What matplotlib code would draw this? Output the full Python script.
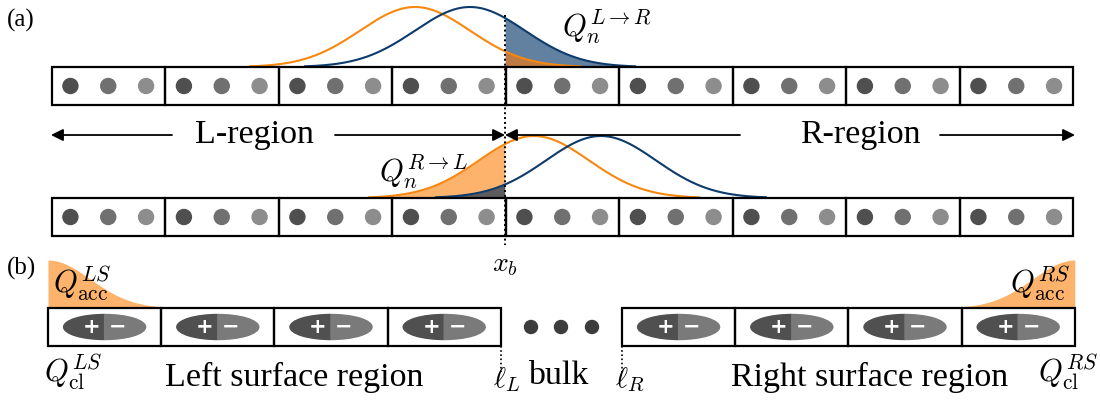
import numpy as np
import matplotlib
matplotlib.use("Agg")
import matplotlib.pyplot as plt
from matplotlib.patches import Rectangle, Circle, Wedge
from matplotlib.transforms import Affine2D

plt.rcParams['font.family'] = ['Liberation Serif', 'DejaVu Serif']
plt.rcParams['mathtext.fontset'] = 'cm'

# --- schematic values (pixel units of the 1100x403 canvas) ---
n_cells = 9
cell_x0, cell_w = 51.5, 113.5
dot_shades = ['#4f4f4f', '#707070', '#8d8d8d']
x_b = 505.0

# gaussian packets: (centre, amplitude, width) for the two rows
row1_base = 67
row1_orange = (415, 60, 55)
row1_blue = (470, 60, 55)
row2_base = 198
row2_orange = (534, 62, 55)
row2_blue = (601, 62, 55)
cut = 165

# part (b)
surf_left_x0, surf_right_x0, surf_w = 48.0, 622.0, 113.2
n_surf = 4
bulk_dots = [531, 561, 592]

ORANGE = '#f7870f'
BLUE = '#0d3b6b'
FS = 24.5

fig = plt.figure(figsize=(11, 4.03), dpi=100)
ax = fig.add_axes([0, 0, 1, 1])
ax.set_xlim(0, 1100)
ax.set_ylim(403, 0)
ax.axis('off')


def gauss(c, a, s, base):
    x = np.linspace(c - cut, c + cut, 400)
    return x, base - a * np.exp(-(x - c) ** 2 / (2 * s ** 2))


def dot_row(y0, h):
    for i in range(n_cells):
        x0 = cell_x0 + i * cell_w
        ax.add_patch(Rectangle((x0, y0), cell_w, h, fill=False, lw=1.6, ec='k', zorder=3))
        for k, col in enumerate(dot_shades):
            ax.add_patch(Circle((x0 + cell_w * (2 * k + 1) / 6, y0 + h / 2), 7.5,
                                color=col, zorder=3))


# ---------- row 1 ----------
dot_row(row1_base, 38)
xo, yo = gauss(*row1_orange, row1_base)
xbl, ybl = gauss(*row1_blue, row1_base)
m = xbl >= x_b
ax.fill_between(xbl[m], row1_base, ybl[m], color='#62809f', lw=0, zorder=1)
m = xo >= x_b
ax.fill_between(xo[m], row1_base, yo[m], color='#c07b42', lw=0, zorder=1)
ax.plot(xo, yo, color=ORANGE, lw=1.5, zorder=2)
ax.plot(xbl, ybl, color=BLUE, lw=1.5, zorder=2)
ax.text(562, 27, r'$Q_n^{L\to R}$', fontsize=22, va='center', ha='left')

# ---------- row 2 ----------
dot_row(row2_base, 38)
xo, yo = gauss(*row2_orange, row2_base)
xbl, ybl = gauss(*row2_blue, row2_base)
m = xo <= x_b
ax.fill_between(xo[m], row2_base, yo[m], color='#fdb36c', lw=0, zorder=1)
m = xbl <= x_b
ax.fill_between(xbl[m], row2_base, ybl[m], color='#5c5c5c', lw=0, zorder=1)
ax.plot(xo, yo, color=ORANGE, lw=1.5, zorder=2)
ax.plot(xbl, ybl, color=BLUE, lw=1.5, zorder=2)
ax.text(379, 172, r'$Q_n^{R\to L}$', fontsize=22, va='center', ha='left')

# region arrows
arw = dict(arrowstyle='-|>', color='k', lw=1.3, mutation_scale=18, shrinkA=0, shrinkB=0)
ay = 135
ax.annotate('', xy=(51, ay), xytext=(172, ay), arrowprops=arw)
ax.annotate('', xy=(x_b, ay), xytext=(335, ay), arrowprops=arw)
ax.text(254, ay, 'L-region', fontsize=FS, ha='center', va='center')
ax.annotate('', xy=(x_b, ay), xytext=(740, ay), arrowprops=arw)
ax.annotate('', xy=(1075, ay), xytext=(940, ay), arrowprops=arw)
ax.text(860, ay, 'R-region', fontsize=FS, ha='center', va='center')

# boundary x_b
ax.plot([x_b, x_b], [15, 245], color='k', lw=1.4, ls=(0, (1, 1.5)), zorder=4)
ax.text(x_b, 266, r'$x_b$', fontsize=20, ha='center', va='center')

ax.text(7, 20, '(a)', fontsize=18, va='center', ha='left')
ax.text(7, 268, '(b)', fontsize=18, va='center', ha='left')

# ---------- part (b) ----------
yb0, hb = 308, 38


def surf_cells(x_start):
    for i in range(n_surf):
        x0 = x_start + i * surf_w
        ax.add_patch(Rectangle((x0, yb0), surf_w, hb, fill=False, lw=1.6, ec='k', zorder=3))
        cx, cy = x0 + surf_w / 2, yb0 + hb / 2
        tr = Affine2D().scale(41, 12.5).translate(cx, cy) + ax.transData
        ax.add_patch(Wedge((0, 0), 1, 90, 270, color='#505050', transform=tr, zorder=3))
        ax.add_patch(Wedge((0, 0), 1, -90, 90, color='#7a7a7a', transform=tr, zorder=3))
        ax.text(cx - 13, cy, '+', color='white', fontsize=15, fontweight='bold',
                family='DejaVu Sans', ha='center', va='center', zorder=4)
        ax.text(cx + 13, cy, '\u2212', color='white', fontsize=15, fontweight='bold',
                family='DejaVu Sans', ha='center', va='center', zorder=4)


surf_cells(surf_left_x0)
surf_cells(surf_right_x0)

# accumulated charge
xs = np.linspace(0, surf_w, 200)
acc = 48 * np.exp(-xs ** 2 / (2 * 42 ** 2))
ax.fill_between(surf_left_x0 + xs, yb0, yb0 - acc, color='#fdb36c', lw=0, zorder=1)
xr = surf_right_x0 + n_surf * surf_w
ax.fill_between(xr - xs, yb0, yb0 - acc, color='#fdb36c', lw=0, zorder=1)

for bx in bulk_dots:
    ax.add_patch(Circle((bx, yb0 + hb / 2), 6.5, color='#3c3c3c'))

xl = surf_left_x0 + n_surf * surf_w
ax.plot([xl, xl], [yb0 + hb, 372], color='k', lw=1.2, ls=(0, (1, 1.5)))
ax.plot([surf_right_x0, surf_right_x0], [yb0 + hb, 372], color='k', lw=1.2, ls=(0, (1, 1.5)))

ax.text(53, 283, r'$Q^{LS}_{\rm acc}$', fontsize=22, ha='left', va='center')
ax.text(1070, 283, r'$Q^{RS}_{\rm acc}$', fontsize=22, ha='right', va='center')
ax.text(44, 372, r'$Q^{LS}_{\rm cl}$', fontsize=22, ha='left', va='center')
ax.text(1098, 372, r'$Q^{RS}_{\rm cl}$', fontsize=22, ha='right', va='center')
ax.text(294, 377, 'Left surface region', fontsize=FS, ha='center', va='center')
ax.text(870, 377, 'Right surface region', fontsize=FS, ha='center', va='center')
ax.text(xl + 6, 380, r'$\ell_L$', fontsize=21, ha='center', va='center')
ax.text(558, 376, 'bulk', fontsize=FS, ha='center', va='center')
ax.text(surf_right_x0 + 8, 380, r'$\ell_R$', fontsize=21, ha='center', va='center')

fig.savefig('out.png', dpi=100)
